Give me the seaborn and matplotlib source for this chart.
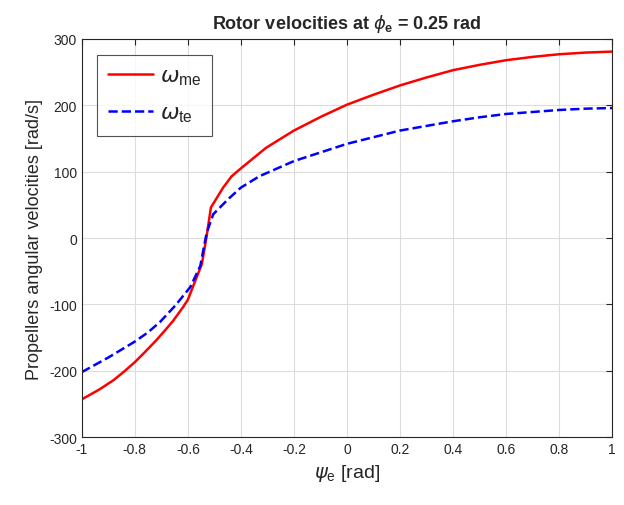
import numpy as np
import matplotlib
matplotlib.use("Agg")
import matplotlib.pyplot as plt
import seaborn as sns

# values
psi_me = [-1.0, -0.933, -0.88, -0.843, -0.8, -0.76, -0.719, -0.686, -0.656, -0.618,
          -0.6, -0.547, -0.529, -0.513, -0.467, -0.435, -0.4, -0.305, -0.2, -0.097,
          0.0, 0.1, 0.2, 0.3, 0.4, 0.5, 0.6, 0.7, 0.8, 0.9, 1.0]
omega_me = [-243, -228, -214, -202, -187, -171, -154, -139, -125, -104,
            -93, -39, 3, 46, 76, 93, 105, 136, 162, 183,
            201, 216, 230, 242, 253, 261, 268, 273, 277, 279.5, 281]

psi_te = [-1.0, -0.9, -0.8, -0.75, -0.704, -0.648, -0.591, -0.553, -0.529, -0.504,
          -0.447, -0.4, -0.331, -0.2, -0.1, 0.0, 0.1, 0.2, 0.3, 0.4,
          0.5, 0.6, 0.7, 0.8, 0.9, 1.0]
omega_te = [-202, -180, -156, -142, -126, -102, -74, -42, 8, 36,
            59, 76, 93, 116, 129, 142, 152, 162, 169, 176,
            182, 187, 190, 193, 195, 196]

sns.set_style("white")
plt.rcParams['font.family'] = ['Liberation Sans', 'DejaVu Sans']
plt.rcParams['mathtext.fontset'] = 'custom'
plt.rcParams['mathtext.rm'] = 'Liberation Sans'
plt.rcParams['mathtext.it'] = 'DejaVu Sans:oblique'
plt.rcParams['mathtext.bf'] = 'Liberation Sans:bold'

fig = plt.figure(figsize=(6.24, 5.06), dpi=100)
ax = fig.add_axes([0.131, 0.134, 0.850, 0.787])

sns.lineplot(x=psi_me, y=omega_me, ax=ax, color='red', linewidth=1.8,
             label=r'$\omega_{\mathrm{me}}$', sort=False)
sns.lineplot(x=psi_te, y=omega_te, ax=ax, color='blue', linewidth=1.8,
             linestyle='--', dashes=(4, 3), label=r'$\omega_{\mathrm{te}}$', sort=False)

ax.set_xlim(-1, 1)
ax.set_ylim(-300, 300)
ax.set_xticks(np.arange(-1, 1.01, 0.2))
ax.set_xticklabels(['-1', '-0.8', '-0.6', '-0.4', '-0.2', '0', '0.2', '0.4', '0.6', '0.8', '1'])
ax.set_yticks(np.arange(-300, 301, 100))
ax.set_yticklabels([str(v) for v in range(-300, 301, 100)])
ax.grid(True, color='#dcdcdc', linewidth=0.8)
ax.tick_params(direction='in', top=True, right=True, length=4, labelsize=10, colors='#262626')
for s in ax.spines.values():
    s.set_color('#262626')
    s.set_linewidth(0.8)

ax.set_xlabel(r'$\psi_{\mathrm{e}}$ [rad]', fontsize=14, color='#262626')
ax.set_ylabel('Propellers angular velocities [rad/s]', fontsize=13, color='#262626')
ax.set_title(r'Rotor velocities at $\phi_{\mathbf{e}}$ = 0.25 rad', fontsize=13,
             fontweight='bold', pad=8)

leg = ax.legend(loc='upper left', fontsize=16, frameon=True, fancybox=False,
                handlelength=2.0, handletextpad=0.3, borderaxespad=0.7,
                labelspacing=0.7, borderpad=0.5)
leg.get_frame().set_edgecolor('#262626')
leg.get_frame().set_linewidth(0.8)

fig.savefig('out.png', dpi=100)
